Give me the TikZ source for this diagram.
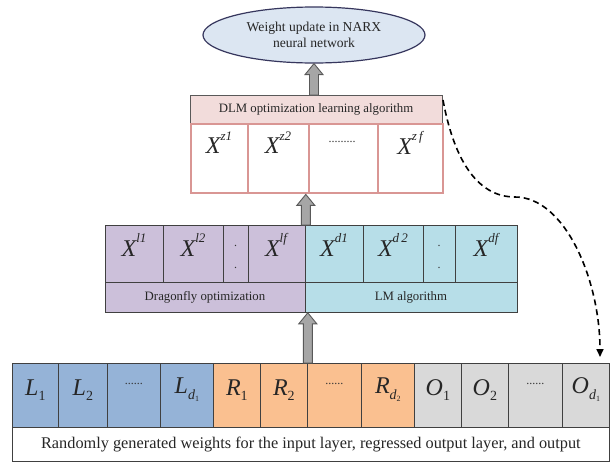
\documentclass[tikz,border=0pt]{standalone}
\usepackage{fontspec}
\setmainfont{Liberation Serif}
\usetikzlibrary{arrows.meta,shapes.geometric,calc}
\definecolor{pinkhdr}{HTML}{F2DCDB}
\definecolor{pinkbd}{HTML}{D99694}
\definecolor{purp}{HTML}{CCC0DA}
\definecolor{cyanl}{HTML}{B7DEE8}
\definecolor{blueb}{HTML}{95B3D7}
\definecolor{orng}{HTML}{FAC090}
\definecolor{greyc}{HTML}{D9D9D9}
\definecolor{ellf}{HTML}{DCE6F2}
\definecolor{bd}{HTML}{404040}
\definecolor{arrf}{HTML}{A6A6A6}
\definecolor{arrd}{HTML}{595959}
\newcommand\mkcell[6]{\node[#6, minimum width={(#4)-(#2)}, minimum height={(#5)-(#3)}] (#1) at (#2,#3) {};}
\newcommand\barrow[2]{\path[blockarrow] let \p1=(#1), \p2=(#2) in
  (\x1-4.5pt,\y1) -- (\x1-4.5pt,\y2-11pt) -- (\x1-9pt,\y2-11pt) -- (\x1,\y2) -- (\x1+9pt,\y2-11pt) -- (\x1+4.5pt,\y2-11pt) -- (\x1+4.5pt,\y1) -- cycle;}
\newcommand\vX[1]{{\itshape X}\raisebox{0.55em}{\fontsize{13}{14}\selectfont\itshape #1}}
\newcommand\sub[2]{{\itshape #1}\raisebox{-0.22em}{\fontsize{14}{15}\selectfont #2}}
\begin{document}
\begin{tikzpicture}[x=1pt,y=-1pt,
  box/.style={draw=bd, line width=0.8pt, inner sep=0pt, anchor=north west},
  pinkcell/.style={draw=pinkbd, line width=2.4pt, fill=white, inner sep=0pt, anchor=north west},
  hdrbox/.style={draw=arrd, line width=0.8pt, fill=pinkhdr, inner sep=0pt, anchor=north west},
  lbl/.style={inner sep=0pt, font=\fontsize{12.8}{14}\selectfont, text=black!85},
  sym/.style={inner sep=0pt, font=\fontsize{24}{26}\selectfont, text=black!85},
  dotl/.style={inner sep=0pt, font=\fontsize{12}{14}\selectfont, text=black!80},
  blockarrow/.style={fill=arrf, draw=arrd, line width=0.9pt, line join=miter},
  dasharrow/.style={draw=black, line width=1.6pt, dash pattern=on 6pt off 4pt, -{Triangle[length=8pt,width=7pt]}}]
\useasboundingbox (0,0) rectangle (611,464);
\fill[white] (0,0) rectangle (611,464);

% ellipse
\node[ellipse, draw=bd!85!blue, line width=1.2pt, fill=ellf, minimum width=222, minimum height=56, inner sep=0pt,
  align=center, font=\fontsize{13.6}{16}\selectfont, text=black!85] (ell) at (314,35) {Weight update in NARX\\neural network};

% DLM block
\mkcell{hdr}{190}{95}{442}{123}{hdrbox}
\node[lbl] (thdr) at (316,109) {DLM optimization learning algorithm};
\mkcell{z1}{190}{123}{247}{192}{pinkcell}
\mkcell{z2}{247}{123}{308}{192}{pinkcell}
\mkcell{z3}{308}{123}{377}{192}{pinkcell}
\mkcell{z4}{377}{123}{442}{192}{pinkcell}
\node[sym] (tz1) at (219,143) {\vX{z1}};
\node[sym] (tz2) at (278,143) {\vX{z2}};
\node[dotl] (tz3) at (342,142) {.........};
\node[sym] (tz4) at (410,143) {\vX{z\,f}};

% middle block
\mkcell{l1}{105}{225}{163}{282}{box, fill=purp}
\mkcell{l2}{163}{225}{223}{282}{box, fill=purp}
\mkcell{l3}{223}{225}{248}{282}{box, fill=purp}
\mkcell{l4}{248}{225}{305}{282}{box, fill=purp}
\mkcell{lb}{105}{282}{305}{312}{box, fill=purp}
\mkcell{d1}{305}{225}{363}{282}{box, fill=cyanl}
\mkcell{d2}{363}{225}{423}{282}{box, fill=cyanl}
\mkcell{d3}{423}{225}{455}{282}{box, fill=cyanl}
\mkcell{d4}{455}{225}{517}{282}{box, fill=cyanl}
\mkcell{db}{305}{282}{517}{312}{box, fill=cyanl}
\node[sym] (tl1) at (134,245) {\vX{l1}};
\node[sym] (tl2) at (193,245) {\vX{l2}};
\node[dotl] (tl3a) at (235.5,246) {.};
\node[dotl] (tl3b) at (235.5,268) {.};
\node[sym] (tl4) at (276,245) {\vX{lf}};
\node[sym] (td1) at (334,245) {\vX{d1}};
\node[sym] (td2) at (393,245) {\vX{d\,2}};
\node[dotl] (td3a) at (439,246) {.};
\node[dotl] (td3b) at (439,268) {.};
\node[sym] (td4) at (486,245) {\vX{df}};
\node[lbl] (tlb) at (205,297) {Dragonfly optimization};
\node[lbl] (tdb) at (411,297) {LM algorithm};

% bottom block
\mkcell{L1}{12}{363}{58}{427}{box, fill=blueb}
\mkcell{L2}{58}{363}{107}{427}{box, fill=blueb}
\mkcell{L3}{107}{363}{160}{427}{box, fill=blueb}
\mkcell{L4}{160}{363}{213}{427}{box, fill=blueb}
\mkcell{R1}{213}{363}{260}{427}{box, fill=orng}
\mkcell{R2}{260}{363}{307}{427}{box, fill=orng}
\mkcell{R3}{307}{363}{361}{427}{box, fill=orng}
\mkcell{R4}{361}{363}{414}{427}{box, fill=orng}
\mkcell{O1}{414}{363}{461}{427}{box, fill=greyc}
\mkcell{O2}{461}{363}{508}{427}{box, fill=greyc}
\mkcell{O3}{508}{363}{562}{427}{box, fill=greyc}
\mkcell{O4}{562}{363}{609}{427}{box, fill=greyc}
\mkcell{bt}{12}{427}{609}{461}{box, fill=white}
\node[sym] (tL1) at (L1 |- 0,390) {\sub{L}{1}};
\node[sym] (tL2) at (L2 |- 0,390) {\sub{L}{2}};
\node[dotl] (tL3) at (L3 |- 0,384) {......};
\node[sym] (tL4) at (L4 |- 0,390) {\sub{L}{\itshape d\raisebox{-0.2em}{\fontsize{8}{9}\selectfont\upshape 1}}};
\node[sym] (tR1) at (R1 |- 0,390) {\sub{R}{1}};
\node[sym] (tR2) at (R2 |- 0,390) {\sub{R}{2}};
\node[dotl] (tR3) at (R3 |- 0,384) {......};
\node[sym] (tR4) at (R4 |- 0,390) {\sub{R}{\itshape d\raisebox{-0.2em}{\fontsize{8}{9}\selectfont\upshape 2}}};
\node[sym] (tO1) at (O1 |- 0,390) {\sub{O}{1}};
\node[sym] (tO2) at (O2 |- 0,390) {\sub{O}{2}};
\node[dotl] (tO3) at (O3 |- 0,384) {......};
\node[sym] (tO4) at (O4 |- 0,390) {\sub{O}{\itshape d\raisebox{-0.2em}{\fontsize{8}{9}\selectfont\upshape 1}}};
\node[inner sep=0pt, font=\fontsize{16.3}{18}\selectfont, text=black!85] (tbt) at (bt.center) {Randomly generated weights for the input layer, regressed output layer, and output};

% block arrows
\barrow{hdr.north -| ell.south}{ell.south}
\barrow{l4.north east}{l4.north east |- z2.south}
\barrow{R2.north east}{R2.north east |- lb.south}

% dashed arrow
\coordinate (dstart) at (443,100);
\coordinate (dend) at (600,357);
\draw[dasharrow] (dstart) .. controls (455,165) and (480,197) .. (515,197)
  .. controls (565,197) and (600,280) .. (dend);
\end{tikzpicture}
\end{document}
